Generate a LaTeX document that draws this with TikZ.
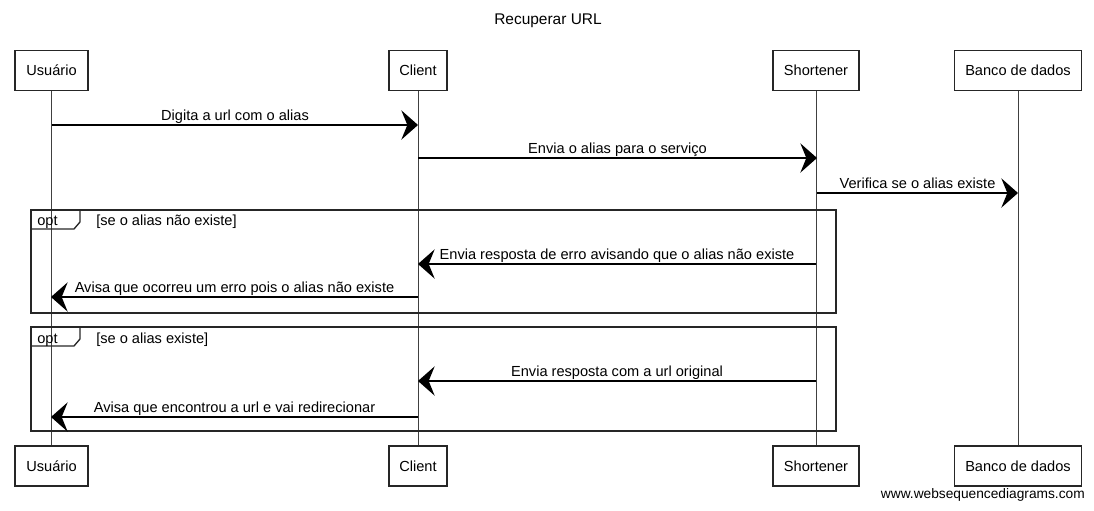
\documentclass[tikz,border=0pt]{standalone}
\usepackage{fontspec}
\setmainfont{Liberation Sans}
\usetikzlibrary{arrows.meta}
\begin{document}
\begin{tikzpicture}[x=0.75pt,y=-0.75pt,
  font=\fontsize{10.95}{12}\selectfont,
  partbox/.style={draw=black!85, line width=0.9pt, fill=white, inner sep=0pt, minimum height=30pt},
  lifeline/.style={draw=black!75, line width=0.7pt},
  msg/.style={draw=black, line width=1.1pt, -{Stealth[length=12.5pt,width=22pt,inset=4.5pt]}},
  lbl/.style={midway, anchor=base, yshift=3.6pt, inner sep=0pt},
  frame/.style={draw=black!85, line width=1pt},
  txt/.style={anchor=base west, inner sep=0pt}]
\useasboundingbox (0,0) rectangle (1094,510);
% title
\node[font=\fontsize{11.6}{13}\selectfont] (title) at (548,21) {Recuperar URL};
% participants top
\node[partbox, minimum width=54.75pt] (u) at (51.5,70.5) {Usuário};
\node[partbox, minimum width=43.5pt] (c) at (418,70.5) {Client};
\node[partbox, minimum width=64.5pt] (s) at (816,70.5) {Shortener};
\node[partbox, minimum width=95.5pt] (b) at (1018,70.5) {Banco de dados};
% participants bottom
\node[partbox, minimum width=54.75pt] (ub) at (51.5,466) {Usuário};
\node[partbox, minimum width=43.5pt] (cb) at (418,466) {Client};
\node[partbox, minimum width=64.5pt] (sb) at (816,466) {Shortener};
\node[partbox, minimum width=95.5pt] (bb) at (1018,466) {Banco de dados};
% lifelines
\draw[lifeline] (u) -- (ub);
\draw[lifeline] (c) -- (cb);
\draw[lifeline] (s) -- (sb);
\draw[lifeline] (b) -- (bb);
% message coordinates
\coordinate (m1a) at (52,125);  \coordinate (m1b) at (418,125);
\coordinate (m2a) at (418,158); \coordinate (m2b) at (817,158);
\coordinate (m3a) at (817,193); \coordinate (m3b) at (1018,193);
\coordinate (m4a) at (816,264); \coordinate (m4b) at (418,264);
\coordinate (m5a) at (418,297); \coordinate (m5b) at (51,297);
\coordinate (m6a) at (816,381); \coordinate (m6b) at (418,381);
\coordinate (m7a) at (418,417); \coordinate (m7b) at (51,417);
% frames
\draw[frame] (31,210) rectangle (836,313);
\draw[frame] (31,210) -- (80,210) -- (80,222) -- (74,229) -- (31,229);
\node[txt] (opt1) at (37,225) {opt};
\node[txt] (cond1) at (96,225) {[se o alias não existe]};
\draw[frame] (31,327) rectangle (836,431);
\draw[frame] (31,327) -- (80,327) -- (80,339) -- (74,346) -- (31,346);
\node[txt] (opt2) at (37,343) {opt};
\node[txt] (cond2) at (96,343) {[se o alias existe]};
% messages
\draw[msg] (m1a) -- node[lbl] (l1) {Digita a url com o alias} (m1b);
\draw[msg] (m2a) -- node[lbl] (l2) {Envia o alias para o serviço} (m2b);
\draw[msg] (m3a) -- node[lbl] (l3) {Verifica se o alias existe} (m3b);
\draw[msg] (m4a) -- node[lbl] (l4) {Envia resposta de erro avisando que o alias não existe} (m4b);
\draw[msg] (m5a) -- node[lbl] (l5) {Avisa que ocorreu um erro pois o alias não existe} (m5b);
\draw[msg] (m6a) -- node[lbl] (l6) {Envia resposta com a url original} (m6b);
\draw[msg] (m7a) -- node[lbl] (l7) {Avisa que encontrou a url e vai redirecionar} (m7b);
% footer
\node[anchor=base east, inner sep=0pt, font=\fontsize{10.3}{12}\selectfont] (web) at (1085,498) {www.websequencediagrams.com};
\end{tikzpicture}
\end{document}
